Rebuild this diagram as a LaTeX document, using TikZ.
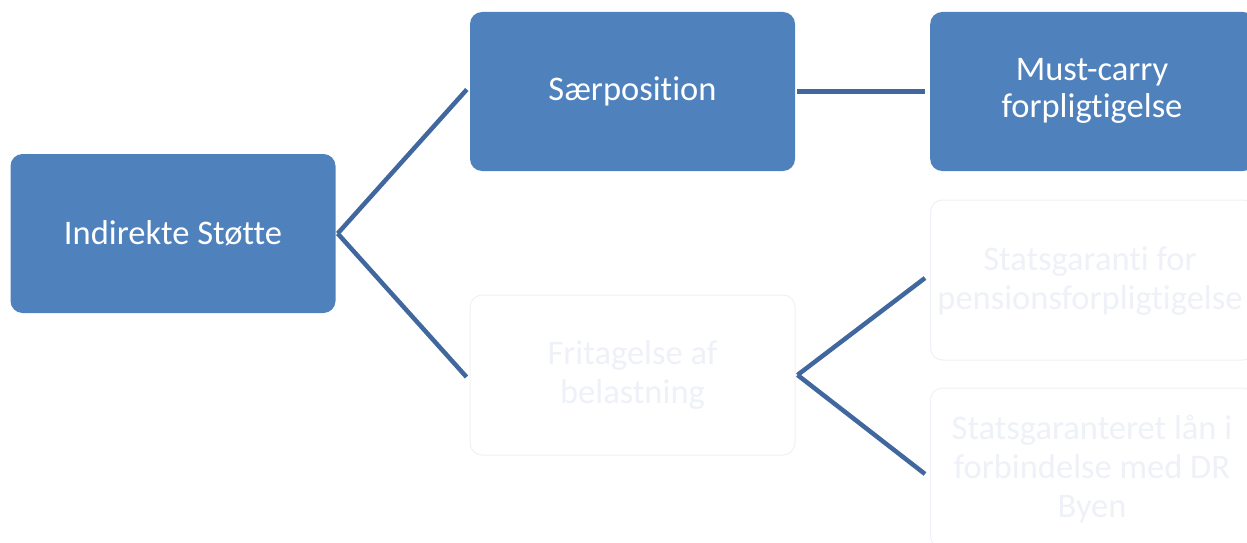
\documentclass[tikz,border=0pt]{standalone}
\usepackage{fontspec}
\setmainfont[Ligatures=NoCommon]{Carlito}
\definecolor{boxblue}{HTML}{4F81BD}
\definecolor{lineblue}{HTML}{41689E}
\definecolor{faint}{HTML}{EEF1F7}
\begin{document}
\begin{tikzpicture}[x=1pt,y=-1pt,
  solidbox/.style={draw=none,fill=boxblue,rounded corners=12pt,text=white,
    font=\fontsize{34.5}{37}\selectfont,align=center,inner sep=0pt},
  faintbox/.style={draw=faint,line width=1pt,fill=white,rounded corners=12pt,text=faint,
    font=\fontsize{34.5}{39}\selectfont,align=center,inner sep=0pt},
  fainttext/.style={font=\fontsize{34.5}{39}\selectfont,text=faint,align=center,inner sep=0pt},
  conn/.style={draw=lineblue,line width=4.5pt}]
\useasboundingbox (0,0) rectangle (1247,543);
\clip (0,0) rectangle (1247,543);
\node[solidbox,minimum width=325pt,minimum height=159pt] (A) at (173,233.5) {Indirekte Støtte};
\node[solidbox,minimum width=325pt,minimum height=159pt] (B) at (632.5,91.5) {Særposition};
\node[solidbox,minimum width=325pt,minimum height=159pt,anchor=west] (C) at (930,91.5) {};
\node[solidbox] (Ct) at (1092,91) {Must-carry\\forpligtigelse};
\node[faintbox,minimum width=325pt,minimum height=160pt] (D) at (632.5,375) {Fritagelse af\\belastning};
\node[faintbox,minimum width=325pt,minimum height=160pt,anchor=west] (E) at (930,280) {};
\node[fainttext] (Et) at (1090,281) {Statsgaranti for\\pensionsforpligtigelse};
\node[faintbox,minimum width=325pt,minimum height=160pt,anchor=west] (F) at (930,468) {};
\node[fainttext] (Ft) at (1092,469) {Statsgaranteret lån i\\forbindelse med DR\\Byen};
\coordinate (a) at ([xshift=2pt]A.east);
\draw[conn] (a) -- ([xshift=-3pt,yshift=2pt]B.west);
\draw[conn] (a) -- ([xshift=-3pt,yshift=-2pt]D.west);
\draw[conn] ([xshift=2pt]B.east) -- ([xshift=-5pt]C.west);
\coordinate (d) at ([xshift=2pt]D.east);
\draw[conn] (d) -- ([xshift=-5pt,yshift=2pt]E.west);
\draw[conn] (d) -- ([xshift=-5pt,yshift=-6pt]F.west);
\end{tikzpicture}
\end{document}
